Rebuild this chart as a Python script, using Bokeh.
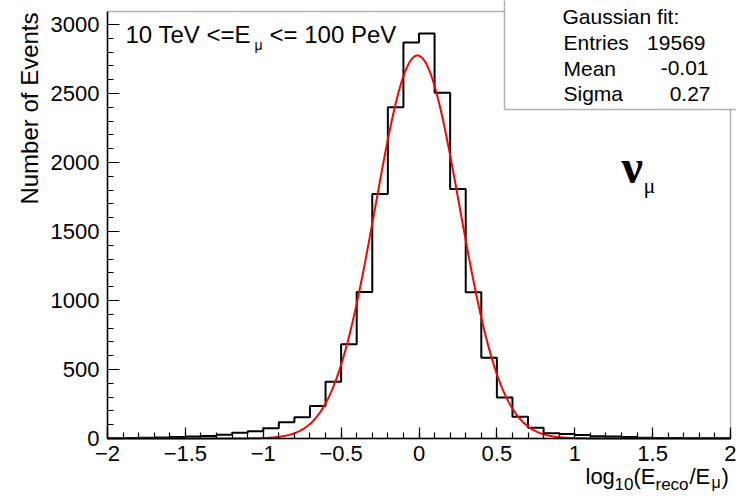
import numpy as np
from bokeh.plotting import figure
from bokeh.models import (Label, BoxAnnotation, FixedTicker, CustomJSTickFormatter,
                          LinearAxis, Range1d)
from bokeh.embed import file_html
from bokeh.resources import INLINE

# ---------------- data ----------------
bin_lo = -2.0
bin_hi = 2.0
bin_width = 0.1
counts = [2, 3, 5, 7, 10, 14, 19, 28, 41, 53,
          75, 118, 154, 235, 411, 683, 1062, 1772, 2401, 2870,
          2935, 2505, 1808, 1060, 586, 297, 157, 77, 38, 32,
          25, 17, 14, 10, 6, 4, 3, 2, 1, 1]
fit_amp = 2775
fit_mean = -0.01
fit_sigma = 0.27
stats_title = "Gaussian fit:"
stats_names = ["Entries", "Mean", "Sigma"]
stats_values = ["19569", "-0.01", "0.27"]
x_ticks = [-2, -1.5, -1, -0.5, 0, 0.5, 1, 1.5, 2]
y_ticks = [0, 500, 1000, 1500, 2000, 2500, 3000]

# ---------------- geometry ----------------
W, H = 736, 495
FL, FR, FT, FB = 107, 730, 11, 438     # visible data window, in pixels
XA, XB = -2.0, 2.0                      # data shown in that window
YA, YB = 0.0, 3094.0
sx = (FR - FL) / (XB - XA)
sy = (FB - FT) / (YB - YA)
X0, X1 = XA - FL / sx, XB + (W - FR) / sx
Y0, Y1 = YA - (H - FB) / sy, YB + FT / sy
FONT = "Liberation Sans"
BASE_FIX = 0.37   # empirical shift of the rendered baseline (in em)


def dx(px):  # pixel -> data x
    return X0 + px / sx


def dy(py):  # pixel -> data y
    return Y1 - py / sy


p = figure(width=W, height=H, x_range=Range1d(X0, X1), y_range=Range1d(Y0, Y1),
           output_backend="svg", toolbar_location=None, title=None,
           x_axis_location=None, y_axis_location=None,
           min_border_left=0, min_border_right=0, min_border_top=0, min_border_bottom=0)
p.xgrid.visible = False
p.ygrid.visible = False
p.outline_line_color = None
p.background_fill_color = "white"
p.border_fill_color = "white"

# axes fixed at the edges of the data window
xaxis = LinearAxis(fixed_location=YA, bounds=(XA, XB))
yaxis = LinearAxis(fixed_location=XA, bounds=(YA, YB))
xaxis.ticker = FixedTicker(ticks=x_ticks,
                           minor_ticks=list(np.round(np.arange(-2.0, 2.01, 0.1), 2)))
yaxis.ticker = FixedTicker(ticks=y_ticks, minor_ticks=list(range(0, 3100, 100)))
xaxis.formatter = CustomJSTickFormatter(
    code="return tick < 0 ? '\\u2212' + String(Math.abs(tick)) : String(tick);")
for ax in (xaxis, yaxis):
    ax.axis_line_color = "black"
    ax.axis_line_width = 1.5
    ax.major_tick_line_color = "black"
    ax.minor_tick_line_color = "black"
    ax.major_tick_line_width = 1.2
    ax.minor_tick_line_width = 1.2
    ax.major_tick_out = 0
    ax.minor_tick_out = 0
    ax.major_label_text_font = FONT
    ax.major_label_text_font_size = "22px"
    ax.major_label_text_color = "black"
xaxis.major_tick_in = 11
xaxis.minor_tick_in = 6
yaxis.major_tick_in = 12
yaxis.minor_tick_in = 6
xaxis.major_label_standoff = 7
yaxis.major_label_standoff = 8
p.add_layout(xaxis, "below")
p.add_layout(yaxis, "left")

# frame of the data window
p.add_layout(BoxAnnotation(left=XA, right=XB, bottom=YA, top=YB,
                           fill_alpha=0.0, line_color="black", line_width=1.5))

# histogram outline
edges = bin_lo + bin_width * np.arange(len(counts) + 1)
step_x = list(edges)
step_y = list(counts) + [counts[-1]]
p.step(x=step_x, y=step_y, mode="after", line_color="black", line_width=2)

# gaussian fit curve
xf = np.linspace(bin_lo, bin_hi, 801)
yf = fit_amp * np.exp(-0.5 * ((xf - fit_mean) / fit_sigma) ** 2)
p.line(xf, yf, line_color="red", line_width=2)

# stats box
p.add_layout(BoxAnnotation(left=dx(504), right=dx(738), top=dy(-2), bottom=dy(109),
                           fill_color="white", fill_alpha=1.0,
                           line_color="black", line_width=1.5))


def lab(x, y, text, size, align="left", font=FONT, style="normal", rotated=False):
    if rotated:
        x = x - BASE_FIX * size
    else:
        y = y - BASE_FIX * size
    p.add_layout(Label(x=dx(x), y=dy(y), text=text, text_font=font,
                       text_font_size=f"{size}px", text_align=align,
                       text_baseline="alphabetic", text_color="black",
                       text_font_style=style, angle=(np.pi / 2 if rotated else 0.0)))


lab(562, 24, stats_title, 21)
for i, (nm, val) in enumerate(zip(stats_names, stats_values)):
    base = 50 + i * 25.5
    lab(563, base, nm, 21)
    lab([705, 708, 710][i], base, val, 21, align="right")

# energy range text
lab(125, 43, "10 TeV <=E", 24)
lab(254, 50, "\u03bc", 14)
lab(269, 43, "<= 100 PeV", 24)

# nu_mu
lab(621, 184, "\u03bd", 48, font="Liberation Serif", style="bold")
lab(643, 193, "\u03bc", 22, font="Liberation Serif")

# axis titles
lab(38, 12, "Number of Events", 24, align="right", rotated=True)
lab(585, 484, "log", 22)
lab(614, 490, "10", 17)
lab(633, 484, "(E", 22)
lab(655, 490, "reco", 17)
lab(689, 484, "/E", 22)
lab(711, 488, "\u03bc", 16)
lab(721, 484, ")", 22)

open("out.html", "w").write(file_html(p, INLINE))
